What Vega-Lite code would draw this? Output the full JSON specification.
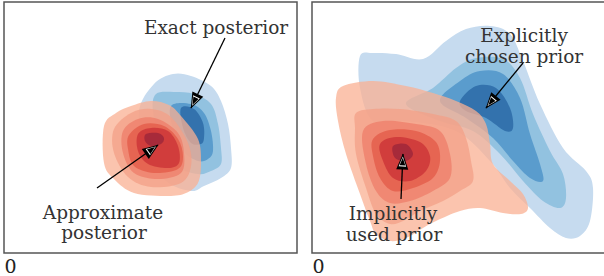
{
"$schema": "https://vega.github.io/schema/vega-lite/v6.json",
"padding": {"left": 3, "top": 1, "right": 0, "bottom": 0},
"spacing": 13,
"config": {"view": {"stroke": "#555", "strokeWidth": 1.5}},
"datasets": {
"cont": [
{"p":"L","k":"b","lev":"b1","i":0,"x":153,"y":83},{"p":"L","k":"b","lev":"b1","i":1,"x":172,"y":73},{"p":"L","k":"b","lev":"b1","i":2,"x":190,"y":75},{"p":"L","k":"b","lev":"b1","i":3,"x":210,"y":85},{"p":"L","k":"b","lev":"b1","i":4,"x":220,"y":100},{"p":"L","k":"b","lev":"b1","i":5,"x":227,"y":123},{"p":"L","k":"b","lev":"b1","i":6,"x":230,"y":147},{"p":"L","k":"b","lev":"b1","i":7,"x":230,"y":167},{"p":"L","k":"b","lev":"b1","i":8,"x":220,"y":177},{"p":"L","k":"b","lev":"b1","i":9,"x":203,"y":185},{"p":"L","k":"b","lev":"b1","i":10,"x":190,"y":190},{"p":"L","k":"b","lev":"b1","i":11,"x":165,"y":180},{"p":"L","k":"b","lev":"b1","i":12,"x":145,"y":150},{"p":"L","k":"b","lev":"b1","i":13,"x":138,"y":110},
{"p":"L","k":"b","lev":"b2","i":0,"x":155,"y":93},{"p":"L","k":"b","lev":"b2","i":1,"x":173,"y":91},{"p":"L","k":"b","lev":"b2","i":2,"x":193,"y":93},{"p":"L","k":"b","lev":"b2","i":3,"x":210,"y":103},{"p":"L","k":"b","lev":"b2","i":4,"x":217,"y":123},{"p":"L","k":"b","lev":"b2","i":5,"x":220,"y":147},{"p":"L","k":"b","lev":"b2","i":6,"x":220,"y":163},{"p":"L","k":"b","lev":"b2","i":7,"x":210,"y":170},{"p":"L","k":"b","lev":"b2","i":8,"x":197,"y":173},{"p":"L","k":"b","lev":"b2","i":9,"x":175,"y":165},{"p":"L","k":"b","lev":"b2","i":10,"x":160,"y":140},{"p":"L","k":"b","lev":"b2","i":11,"x":152,"y":110},
{"p":"L","k":"b","lev":"b3","i":0,"x":170,"y":105},{"p":"L","k":"b","lev":"b3","i":1,"x":190,"y":103},{"p":"L","k":"b","lev":"b3","i":2,"x":203,"y":112},{"p":"L","k":"b","lev":"b3","i":3,"x":210,"y":130},{"p":"L","k":"b","lev":"b3","i":4,"x":212,"y":150},{"p":"L","k":"b","lev":"b3","i":5,"x":207,"y":158},{"p":"L","k":"b","lev":"b3","i":6,"x":197,"y":160},{"p":"L","k":"b","lev":"b3","i":7,"x":182,"y":150},{"p":"L","k":"b","lev":"b3","i":8,"x":172,"y":128},
{"p":"L","k":"b","lev":"b4","i":0,"x":180,"y":107},{"p":"L","k":"b","lev":"b4","i":1,"x":193,"y":108},{"p":"L","k":"b","lev":"b4","i":2,"x":202,"y":122},{"p":"L","k":"b","lev":"b4","i":3,"x":203,"y":137},{"p":"L","k":"b","lev":"b4","i":4,"x":200,"y":143},{"p":"L","k":"b","lev":"b4","i":5,"x":190,"y":142},{"p":"L","k":"b","lev":"b4","i":6,"x":182,"y":127},
{"p":"L","k":"r","lev":"r1","i":0,"x":103,"y":125},{"p":"L","k":"r","lev":"r1","i":1,"x":115,"y":112},{"p":"L","k":"r","lev":"r1","i":2,"x":130,"y":105},{"p":"L","k":"r","lev":"r1","i":3,"x":150,"y":100},{"p":"L","k":"r","lev":"r1","i":4,"x":168,"y":104},{"p":"L","k":"r","lev":"r1","i":5,"x":180,"y":115},{"p":"L","k":"r","lev":"r1","i":6,"x":197,"y":138},{"p":"L","k":"r","lev":"r1","i":7,"x":200,"y":162},{"p":"L","k":"r","lev":"r1","i":8,"x":197,"y":182},{"p":"L","k":"r","lev":"r1","i":9,"x":185,"y":192},{"p":"L","k":"r","lev":"r1","i":10,"x":167,"y":195},{"p":"L","k":"r","lev":"r1","i":11,"x":133,"y":192},{"p":"L","k":"r","lev":"r1","i":12,"x":113,"y":178},{"p":"L","k":"r","lev":"r1","i":13,"x":103,"y":162},
{"p":"L","k":"r","lev":"r2","i":0,"x":113,"y":128},{"p":"L","k":"r","lev":"r2","i":1,"x":130,"y":112},{"p":"L","k":"r","lev":"r2","i":2,"x":150,"y":108},{"p":"L","k":"r","lev":"r2","i":3,"x":170,"y":116},{"p":"L","k":"r","lev":"r2","i":4,"x":187,"y":142},{"p":"L","k":"r","lev":"r2","i":5,"x":190,"y":165},{"p":"L","k":"r","lev":"r2","i":6,"x":180,"y":182},{"p":"L","k":"r","lev":"r2","i":7,"x":150,"y":186},{"p":"L","k":"r","lev":"r2","i":8,"x":127,"y":176},{"p":"L","k":"r","lev":"r2","i":9,"x":113,"y":152},
{"p":"L","k":"r","lev":"r3","i":0,"x":122,"y":130},{"p":"L","k":"r","lev":"r3","i":1,"x":137,"y":118},{"p":"L","k":"r","lev":"r3","i":2,"x":157,"y":118},{"p":"L","k":"r","lev":"r3","i":3,"x":177,"y":132},{"p":"L","k":"r","lev":"r3","i":4,"x":183,"y":152},{"p":"L","k":"r","lev":"r3","i":5,"x":180,"y":172},{"p":"L","k":"r","lev":"r3","i":6,"x":157,"y":178},{"p":"L","k":"r","lev":"r3","i":7,"x":133,"y":172},{"p":"L","k":"r","lev":"r3","i":8,"x":122,"y":152},
{"p":"L","k":"r","lev":"r4","i":0,"x":128,"y":134},{"p":"L","k":"r","lev":"r4","i":1,"x":143,"y":123},{"p":"L","k":"r","lev":"r4","i":2,"x":163,"y":125},{"p":"L","k":"r","lev":"r4","i":3,"x":177,"y":138},{"p":"L","k":"r","lev":"r4","i":4,"x":182,"y":155},{"p":"L","k":"r","lev":"r4","i":5,"x":177,"y":168},{"p":"L","k":"r","lev":"r4","i":6,"x":153,"y":172},{"p":"L","k":"r","lev":"r4","i":7,"x":133,"y":165},{"p":"L","k":"r","lev":"r4","i":8,"x":127,"y":148},
{"p":"L","k":"r","lev":"r5","i":0,"x":137,"y":133},{"p":"L","k":"r","lev":"r5","i":1,"x":150,"y":127},{"p":"L","k":"r","lev":"r5","i":2,"x":167,"y":130},{"p":"L","k":"r","lev":"r5","i":3,"x":177,"y":145},{"p":"L","k":"r","lev":"r5","i":4,"x":178,"y":162},{"p":"L","k":"r","lev":"r5","i":5,"x":167,"y":167},{"p":"L","k":"r","lev":"r5","i":6,"x":147,"y":163},{"p":"L","k":"r","lev":"r5","i":7,"x":137,"y":150},
{"p":"L","k":"r","lev":"r6","i":0,"x":145,"y":133},{"p":"L","k":"r","lev":"r6","i":1,"x":157,"y":132},{"p":"L","k":"r","lev":"r6","i":2,"x":163,"y":137},{"p":"L","k":"r","lev":"r6","i":3,"x":160,"y":143},{"p":"L","k":"r","lev":"r6","i":4,"x":150,"y":145},{"p":"L","k":"r","lev":"r6","i":5,"x":144,"y":140},
{"p":"R","k":"b","lev":"b1","i":0,"x":357,"y":55},{"p":"R","k":"b","lev":"b1","i":1,"x":370,"y":52},{"p":"R","k":"b","lev":"b1","i":2,"x":393,"y":53},{"p":"R","k":"b","lev":"b1","i":3,"x":420,"y":58},{"p":"R","k":"b","lev":"b1","i":4,"x":443,"y":40},{"p":"R","k":"b","lev":"b1","i":5,"x":463,"y":28},{"p":"R","k":"b","lev":"b1","i":6,"x":487,"y":25},{"p":"R","k":"b","lev":"b1","i":7,"x":507,"y":33},{"p":"R","k":"b","lev":"b1","i":8,"x":520,"y":60},{"p":"R","k":"b","lev":"b1","i":9,"x":537,"y":103},{"p":"R","k":"b","lev":"b1","i":10,"x":560,"y":147},{"p":"R","k":"b","lev":"b1","i":11,"x":583,"y":170},{"p":"R","k":"b","lev":"b1","i":12,"x":590,"y":187},{"p":"R","k":"b","lev":"b1","i":13,"x":587,"y":220},{"p":"R","k":"b","lev":"b1","i":14,"x":577,"y":235},{"p":"R","k":"b","lev":"b1","i":15,"x":563,"y":237},{"p":"R","k":"b","lev":"b1","i":16,"x":547,"y":227},{"p":"R","k":"b","lev":"b1","i":17,"x":527,"y":207},{"p":"R","k":"b","lev":"b1","i":18,"x":507,"y":187},{"p":"R","k":"b","lev":"b1","i":19,"x":487,"y":160},{"p":"R","k":"b","lev":"b1","i":20,"x":453,"y":130},{"p":"R","k":"b","lev":"b1","i":21,"x":403,"y":120},{"p":"R","k":"b","lev":"b1","i":22,"x":370,"y":120},{"p":"R","k":"b","lev":"b1","i":23,"x":357,"y":87},
{"p":"R","k":"b","lev":"b2","i":0,"x":403,"y":103},{"p":"R","k":"b","lev":"b2","i":1,"x":430,"y":87},{"p":"R","k":"b","lev":"b2","i":2,"x":453,"y":67},{"p":"R","k":"b","lev":"b2","i":3,"x":473,"y":57},{"p":"R","k":"b","lev":"b2","i":4,"x":500,"y":58},{"p":"R","k":"b","lev":"b2","i":5,"x":517,"y":77},{"p":"R","k":"b","lev":"b2","i":6,"x":530,"y":113},{"p":"R","k":"b","lev":"b2","i":7,"x":547,"y":150},{"p":"R","k":"b","lev":"b2","i":8,"x":560,"y":173},{"p":"R","k":"b","lev":"b2","i":9,"x":563,"y":197},{"p":"R","k":"b","lev":"b2","i":10,"x":557,"y":207},{"p":"R","k":"b","lev":"b2","i":11,"x":540,"y":200},{"p":"R","k":"b","lev":"b2","i":12,"x":520,"y":180},{"p":"R","k":"b","lev":"b2","i":13,"x":497,"y":153},{"p":"R","k":"b","lev":"b2","i":14,"x":470,"y":130},{"p":"R","k":"b","lev":"b2","i":15,"x":437,"y":120},
{"p":"R","k":"b","lev":"b3","i":0,"x":437,"y":100},{"p":"R","k":"b","lev":"b3","i":1,"x":457,"y":80},{"p":"R","k":"b","lev":"b3","i":2,"x":477,"y":70},{"p":"R","k":"b","lev":"b3","i":3,"x":500,"y":73},{"p":"R","k":"b","lev":"b3","i":4,"x":517,"y":97},{"p":"R","k":"b","lev":"b3","i":5,"x":527,"y":133},{"p":"R","k":"b","lev":"b3","i":6,"x":537,"y":163},{"p":"R","k":"b","lev":"b3","i":7,"x":540,"y":180},{"p":"R","k":"b","lev":"b3","i":8,"x":527,"y":177},{"p":"R","k":"b","lev":"b3","i":9,"x":510,"y":160},{"p":"R","k":"b","lev":"b3","i":10,"x":490,"y":137},{"p":"R","k":"b","lev":"b3","i":11,"x":463,"y":117},
{"p":"R","k":"b","lev":"b4","i":0,"x":457,"y":100},{"p":"R","k":"b","lev":"b4","i":1,"x":473,"y":85},{"p":"R","k":"b","lev":"b4","i":2,"x":493,"y":87},{"p":"R","k":"b","lev":"b4","i":3,"x":507,"y":107},{"p":"R","k":"b","lev":"b4","i":4,"x":510,"y":127},{"p":"R","k":"b","lev":"b4","i":5,"x":502,"y":130},{"p":"R","k":"b","lev":"b4","i":6,"x":483,"y":117},{"p":"R","k":"b","lev":"b4","i":7,"x":463,"y":110},
{"p":"R","k":"r","lev":"r1","i":0,"x":333,"y":97},{"p":"R","k":"r","lev":"r1","i":1,"x":340,"y":85},{"p":"R","k":"r","lev":"r1","i":2,"x":370,"y":80},{"p":"R","k":"r","lev":"r1","i":3,"x":403,"y":85},{"p":"R","k":"r","lev":"r1","i":4,"x":430,"y":92},{"p":"R","k":"r","lev":"r1","i":5,"x":453,"y":100},{"p":"R","k":"r","lev":"r1","i":6,"x":473,"y":110},{"p":"R","k":"r","lev":"r1","i":7,"x":483,"y":123},{"p":"R","k":"r","lev":"r1","i":8,"x":487,"y":143},{"p":"R","k":"r","lev":"r1","i":9,"x":490,"y":163},{"p":"R","k":"r","lev":"r1","i":10,"x":507,"y":180},{"p":"R","k":"r","lev":"r1","i":11,"x":520,"y":193},{"p":"R","k":"r","lev":"r1","i":12,"x":525,"y":207},{"p":"R","k":"r","lev":"r1","i":13,"x":518,"y":213},{"p":"R","k":"r","lev":"r1","i":14,"x":500,"y":212},{"p":"R","k":"r","lev":"r1","i":15,"x":477,"y":207},{"p":"R","k":"r","lev":"r1","i":16,"x":457,"y":210},{"p":"R","k":"r","lev":"r1","i":17,"x":433,"y":220},{"p":"R","k":"r","lev":"r1","i":18,"x":420,"y":227},{"p":"R","k":"r","lev":"r1","i":19,"x":403,"y":237},{"p":"R","k":"r","lev":"r1","i":20,"x":387,"y":240},{"p":"R","k":"r","lev":"r1","i":21,"x":373,"y":233},{"p":"R","k":"r","lev":"r1","i":22,"x":367,"y":220},{"p":"R","k":"r","lev":"r1","i":23,"x":357,"y":193},{"p":"R","k":"r","lev":"r1","i":24,"x":343,"y":153},{"p":"R","k":"r","lev":"r1","i":25,"x":335,"y":120},
{"p":"R","k":"r","lev":"r2","i":0,"x":353,"y":112},{"p":"R","k":"r","lev":"r2","i":1,"x":370,"y":108},{"p":"R","k":"r","lev":"r2","i":2,"x":397,"y":108},{"p":"R","k":"r","lev":"r2","i":3,"x":430,"y":113},{"p":"R","k":"r","lev":"r2","i":4,"x":453,"y":120},{"p":"R","k":"r","lev":"r2","i":5,"x":463,"y":137},{"p":"R","k":"r","lev":"r2","i":6,"x":468,"y":160},{"p":"R","k":"r","lev":"r2","i":7,"x":470,"y":180},{"p":"R","k":"r","lev":"r2","i":8,"x":457,"y":190},{"p":"R","k":"r","lev":"r2","i":9,"x":440,"y":200},{"p":"R","k":"r","lev":"r2","i":10,"x":417,"y":210},{"p":"R","k":"r","lev":"r2","i":11,"x":400,"y":220},{"p":"R","k":"r","lev":"r2","i":12,"x":387,"y":223},{"p":"R","k":"r","lev":"r2","i":13,"x":373,"y":213},{"p":"R","k":"r","lev":"r2","i":14,"x":363,"y":187},{"p":"R","k":"r","lev":"r2","i":15,"x":353,"y":153},{"p":"R","k":"r","lev":"r2","i":16,"x":352,"y":127},
{"p":"R","k":"r","lev":"r3","i":0,"x":360,"y":130},{"p":"R","k":"r","lev":"r3","i":1,"x":380,"y":120},{"p":"R","k":"r","lev":"r3","i":2,"x":413,"y":123},{"p":"R","k":"r","lev":"r3","i":3,"x":437,"y":130},{"p":"R","k":"r","lev":"r3","i":4,"x":447,"y":153},{"p":"R","k":"r","lev":"r3","i":5,"x":447,"y":177},{"p":"R","k":"r","lev":"r3","i":6,"x":430,"y":190},{"p":"R","k":"r","lev":"r3","i":7,"x":407,"y":200},{"p":"R","k":"r","lev":"r3","i":8,"x":387,"y":202},{"p":"R","k":"r","lev":"r3","i":9,"x":373,"y":190},{"p":"R","k":"r","lev":"r3","i":10,"x":363,"y":163},
{"p":"R","k":"r","lev":"r4","i":0,"x":370,"y":138},{"p":"R","k":"r","lev":"r4","i":1,"x":387,"y":129},{"p":"R","k":"r","lev":"r4","i":2,"x":413,"y":130},{"p":"R","k":"r","lev":"r4","i":3,"x":433,"y":141},{"p":"R","k":"r","lev":"r4","i":4,"x":437,"y":160},{"p":"R","k":"r","lev":"r4","i":5,"x":430,"y":177},{"p":"R","k":"r","lev":"r4","i":6,"x":410,"y":187},{"p":"R","k":"r","lev":"r4","i":7,"x":390,"y":190},{"p":"R","k":"r","lev":"r4","i":8,"x":377,"y":177},{"p":"R","k":"r","lev":"r4","i":9,"x":370,"y":155},
{"p":"R","k":"r","lev":"r5","i":0,"x":377,"y":143},{"p":"R","k":"r","lev":"r5","i":1,"x":393,"y":136},{"p":"R","k":"r","lev":"r5","i":2,"x":417,"y":141},{"p":"R","k":"r","lev":"r5","i":3,"x":427,"y":155},{"p":"R","k":"r","lev":"r5","i":4,"x":423,"y":170},{"p":"R","k":"r","lev":"r5","i":5,"x":407,"y":180},{"p":"R","k":"r","lev":"r5","i":6,"x":390,"y":177},{"p":"R","k":"r","lev":"r5","i":7,"x":380,"y":160},
{"p":"R","k":"r","lev":"r6","i":0,"x":390,"y":145},{"p":"R","k":"r","lev":"r6","i":1,"x":403,"y":143},{"p":"R","k":"r","lev":"r6","i":2,"x":410,"y":153},{"p":"R","k":"r","lev":"r6","i":3,"x":403,"y":160},{"p":"R","k":"r","lev":"r6","i":4,"x":392,"y":157}
],
"arrows": [
{"p":"L","a":"exact","i":0,"x":224,"y":37},{"p":"L","a":"exact","i":1,"x":190,"y":107},
{"p":"L","a":"approx","i":0,"x":96,"y":187},{"p":"L","a":"approx","i":1,"x":157,"y":144},
{"p":"R","a":"explicit","i":0,"x":520,"y":62},{"p":"R","a":"explicit","i":1,"x":483,"y":107},
{"p":"R","a":"implicit","i":0,"x":398,"y":198},{"p":"R","a":"implicit","i":1,"x":400,"y":153}
],
"heads": [
{"p":"L","a":"exact","x":193.3,"y":100.3,"dir":205.9},
{"p":"L","a":"approx","x":150.9,"y":148.3,"dir":54.8},
{"p":"R","a":"explicit","x":487.8,"y":101.2,"dir":219.4},
{"p":"R","a":"implicit","x":399.6,"y":160.5,"dir":2.5}
],
"labels": [
{"p":"L","t":"Exact posterior","x":215,"y":33},
{"p":"L","t":"Approximate","x":102,"y":218},
{"p":"L","t":"posterior","x":103,"y":238},
{"p":"R","t":"Explicitly","x":521,"y":41},
{"p":"R","t":"chosen prior","x":521,"y":62},
{"p":"R","t":"Implicitly","x":390,"y":219},
{"p":"R","t":"used prior","x":391,"y":240}
]
},
"hconcat": [
{
"width": 293, "height": 251,
"encoding": {
"x": {"field": "x", "type": "quantitative", "scale": {"domain": [3, 296], "nice": false, "zero": false},
"axis": {"values": [3], "labelExpr": "'0'", "domain": false, "ticks": false, "tickSize": 0, "grid": false, "title": null, "labelAlign": "left", "labelDx": -2, "labelPadding": 4, "labelBaseline": "top", "labelFont": "DejaVu Serif", "labelFontSize": 19, "labelColor": "#222"}},
"y": {"field": "y", "type": "quantitative", "scale": {"domain": [1, 252], "nice": false, "zero": false, "reverse": true}, "axis": null}
},
"layer": [
{"data": {"name": "cont"}, "transform": [{"filter": "datum.p == 'L' && datum.k == 'b'"}],
"mark": {"type": "line", "filled": true, "interpolate": "cardinal-closed", "strokeWidth": 0, "opacity": 1},
"encoding": {"color": {"field": "lev", "type": "nominal", "scale": {"domain": ["b1","b2","b3","b4","r1","r2","r3","r4","r5","r6"], "range": ["#c6dbef","#92c2e0","#5a9ccd","#3372ad","#f9b093","#f3a087","#ed7e69","#e35947","#ca3036","#982439"]}, "legend": null}, "order": {"field": "i", "type": "quantitative"}}},
{"data": {"name": "cont"}, "transform": [{"filter": "datum.p == 'L' && datum.k == 'r'"}],
"mark": {"type": "line", "filled": true, "interpolate": "cardinal-closed", "strokeWidth": 0, "opacity": 0.75},
"encoding": {"color": {"field": "lev", "type": "nominal", "legend": null}, "order": {"field": "i", "type": "quantitative"}}},
{"data": {"name": "arrows"}, "transform": [{"filter": "datum.p == 'L'"}],
"mark": {"type": "line", "color": "black", "strokeWidth": 1.3},
"encoding": {"detail": {"field": "a", "type": "nominal"}, "order": {"field": "i", "type": "quantitative"}}},
{"data": {"name": "heads"}, "transform": [{"filter": "datum.p == 'L'"}],
"mark": {"type": "point", "shape": "M0,-1L0.75,1L-0.75,1Z", "filled": true, "color": "black", "opacity": 1, "size": 260},
"encoding": {"angle": {"field": "dir", "type": "quantitative", "scale": null}}},
{"data": {"name": "heads"}, "transform": [{"filter": "datum.p == 'L'"}],
"mark": {"type": "point", "shape": "M0,-1L0.75,1L-0.75,1Z", "filled": true, "color": "white", "opacity": 1, "size": 100},
"encoding": {"angle": {"field": "dir", "type": "quantitative", "scale": null}}},
{"data": {"name": "heads"}, "transform": [{"filter": "datum.p == 'L'"}],
"mark": {"type": "point", "shape": "M0,-1L0.75,1L-0.75,1Z", "filled": true, "color": "black", "opacity": 1, "size": 60},
"encoding": {"angle": {"field": "dir", "type": "quantitative", "scale": null}}},
{"data": {"name": "labels"}, "transform": [{"filter": "datum.p == 'L'"}],
"mark": {"type": "text", "font": "DejaVu Serif", "fontSize": 18.5, "color": "#333", "align": "center", "baseline": "alphabetic"},
"encoding": {"text": {"field": "t", "type": "nominal"}}}
]
},
{
"width": 293, "height": 251,
"encoding": {
"x": {"field": "x", "type": "quantitative", "scale": {"domain": [309, 602], "nice": false, "zero": false},
"axis": {"values": [309], "labelExpr": "'0'", "domain": false, "ticks": false, "tickSize": 0, "grid": false, "title": null, "labelAlign": "left", "labelDx": -2, "labelPadding": 4, "labelBaseline": "top", "labelFont": "DejaVu Serif", "labelFontSize": 19, "labelColor": "#222"}},
"y": {"field": "y", "type": "quantitative", "scale": {"domain": [1, 252], "nice": false, "zero": false, "reverse": true}, "axis": null}
},
"layer": [
{"data": {"name": "cont"}, "transform": [{"filter": "datum.p == 'R' && datum.k == 'b'"}],
"mark": {"type": "line", "filled": true, "interpolate": "cardinal-closed", "strokeWidth": 0, "opacity": 1},
"encoding": {"color": {"field": "lev", "type": "nominal", "legend": null}, "order": {"field": "i", "type": "quantitative"}}},
{"data": {"name": "cont"}, "transform": [{"filter": "datum.p == 'R' && datum.k == 'r'"}],
"mark": {"type": "line", "filled": true, "interpolate": "cardinal-closed", "strokeWidth": 0, "opacity": 0.75},
"encoding": {"color": {"field": "lev", "type": "nominal", "legend": null}, "order": {"field": "i", "type": "quantitative"}}},
{"data": {"name": "arrows"}, "transform": [{"filter": "datum.p == 'R'"}],
"mark": {"type": "line", "color": "black", "strokeWidth": 1.3},
"encoding": {"detail": {"field": "a", "type": "nominal"}, "order": {"field": "i", "type": "quantitative"}}},
{"data": {"name": "heads"}, "transform": [{"filter": "datum.p == 'R'"}],
"mark": {"type": "point", "shape": "M0,-1L0.75,1L-0.75,1Z", "filled": true, "color": "black", "opacity": 1, "size": 260},
"encoding": {"angle": {"field": "dir", "type": "quantitative", "scale": null}}},
{"data": {"name": "heads"}, "transform": [{"filter": "datum.p == 'R'"}],
"mark": {"type": "point", "shape": "M0,-1L0.75,1L-0.75,1Z", "filled": true, "color": "white", "opacity": 1, "size": 100},
"encoding": {"angle": {"field": "dir", "type": "quantitative", "scale": null}}},
{"data": {"name": "heads"}, "transform": [{"filter": "datum.p == 'R'"}],
"mark": {"type": "point", "shape": "M0,-1L0.75,1L-0.75,1Z", "filled": true, "color": "black", "opacity": 1, "size": 60},
"encoding": {"angle": {"field": "dir", "type": "quantitative", "scale": null}}},
{"data": {"name": "labels"}, "transform": [{"filter": "datum.p == 'R'"}],
"mark": {"type": "text", "font": "DejaVu Serif", "fontSize": 18.5, "color": "#333", "align": "center", "baseline": "alphabetic"},
"encoding": {"text": {"field": "t", "type": "nominal"}}}
]
}
]
}
